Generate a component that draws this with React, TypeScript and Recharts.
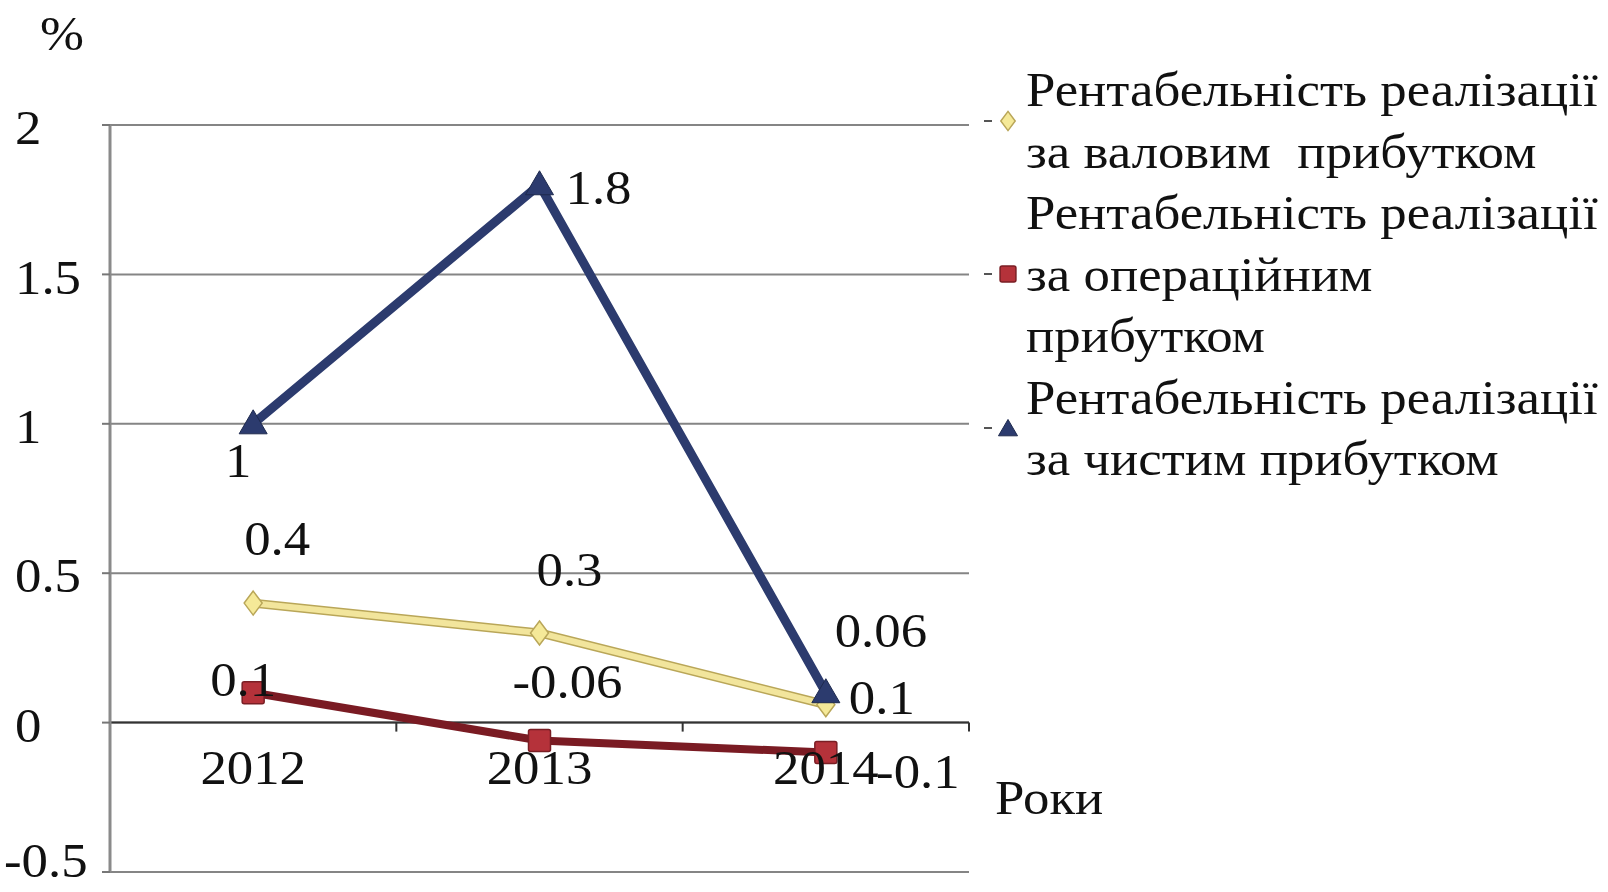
import React from 'react';
import { LineChart, Line, XAxis, YAxis, CartesianGrid, ReferenceLine, LabelList } from 'recharts';

const years = ['2012', '2013', '2014'];
const grossMargin = [0.4, 0.3, 0.06];
const operatingMargin = [0.1, -0.06, -0.1];
const netMargin = [1, 1.8, 0.1];
const yTicks = [-0.5, 0, 0.5, 1, 1.5, 2];
const grossName = ['Рентабельність реалізації', 'за валовим  прибутком'];
const operatingName = ['Рентабельність реалізації', 'за операційним', 'прибутком'];
const netName = ['Рентабельність реалізації', 'за чистим прибутком'];
const yUnit = '%';
const xTitle = 'Роки';

// layout
const W = 1608;
const H = 892;
const TOP = 125;
const PLOT_RIGHT = 969;
const Y_AXIS_W = 110;
const X_AXIS_H = 20;
const PLOT_H = H - TOP - X_AXIS_H;
const BAND = (PLOT_RIGHT - Y_AXIS_W) / years.length;
const ZERO_Y = TOP + PLOT_H * (2 / 2.5);
const FONT = '"Liberation Serif", "Times New Roman", serif';
const FS = 48;
const SX = 1.1; // the source text is a little wide

// label nudges [dx, dy] per point
const grossShift = [[24, -64], [30, -63], [55, -74]];
const operatingShift = [[-10, -13], [28, -59], [92, 19]];
const netShift = [[-15, 37], [59, 3], [56, 5]];

const data = years.map((year, i) => ({
  year,
  gross: grossMargin[i],
  operating: operatingMargin[i],
  net: netMargin[i],
}));

const T = ({ x, y, anchor = 'middle', children }: any) => (
  <text
    transform={`translate(${x},${y}) scale(${SX},1)`}
    textAnchor={anchor}
    dominantBaseline="central"
    fontFamily={FONT}
    fontSize={FS}
    fill="#111"
  >
    {children}
  </text>
);

const makeLabel = (shift: number[][]) => (props: any) => {
  const { x, y, value, index } = props;
  const [dx, dy] = shift[index] || [0, 0];
  return <T x={x + dx} y={y + dy}>{String(value)}</T>;
};

const Diamond = ({ cx, cy, s = 1 }: any) => (
  <path
    d={`M${cx},${cy - 12 * s} L${cx + 9 * s},${cy} L${cx},${cy + 12 * s} L${cx - 9 * s},${cy} Z`}
    fill="#F5E998"
    stroke="#B9A658"
    strokeWidth={1.5}
  />
);

const Square = ({ cx, cy, s = 1 }: any) => (
  <rect
    x={cx - 11 * s}
    y={cy - 11 * s}
    width={22 * s}
    height={22 * s}
    rx={2}
    fill="#B5323A"
    stroke="#7A1E24"
    strokeWidth={1.5}
  />
);

const Triangle = ({ cx, cy, s = 1 }: any) => (
  <path
    d={`M${cx},${cy - 14 * s} L${cx + 14 * s},${cy + 10 * s} L${cx - 14 * s},${cy + 10 * s} Z`}
    fill="#2C3B6E"
    stroke="#1E2A4E"
    strokeWidth={1}
  />
);

const XTick = (props: any) => {
  const { x, payload } = props;
  return (
    <g>
      <line x1={x + BAND / 2} x2={x + BAND / 2} y1={ZERO_Y} y2={ZERO_Y + 9} stroke="#333" strokeWidth={2} />
      <T x={x} y={ZERO_Y + 45}>{payload.value}</T>
    </g>
  );
};

const YTick = (props: any) => {
  const { y, payload } = props;
  const neg = payload.value < 0;
  return (
    <T x={neg ? 4 : 15} y={y + (neg ? -11 : 3)} anchor="start">
      {String(payload.value)}
    </T>
  );
};

const legendItems = [
  { lines: grossName, marker: <Diamond cx={32} cy={25} s={0.8} /> },
  { lines: operatingName, marker: <Square cx={32} cy={25} s={0.72} /> },
  { lines: netName, marker: <Triangle cx={32} cy={26} s={0.68} /> },
];

const htmlText = {
  fontSize: FS,
  lineHeight: `${FS}px`,
  color: '#111',
  transform: `scaleX(${SX})`,
  transformOrigin: 'left center',
};

export default function App() {
  return (
    <div style={{ position: 'absolute', left: 0, top: 0, width: W, height: H, background: '#fff', fontFamily: FONT }}>
      <LineChart width={W} height={H} data={data} margin={{ top: TOP, right: W - PLOT_RIGHT, bottom: 0, left: 0 }}>
        <CartesianGrid vertical={false} stroke="#858585" strokeWidth={2} />
        <XAxis
          dataKey="year"
          scale="band"
          height={X_AXIS_H}
          axisLine={false}
          tickLine={false}
          tick={<XTick />}
          interval={0}
        />
        <YAxis
          width={Y_AXIS_W}
          domain={[-0.5, 2]}
          ticks={yTicks}
          interval={0}
          axisLine={{ stroke: '#8a8a8a', strokeWidth: 3 }}
          tickLine={{ stroke: '#777', strokeWidth: 2 }}
          tickSize={8}
          tick={<YTick />}
        />
        <ReferenceLine y={0} stroke="#333" strokeWidth={2} />
        <Line
          dataKey="gross"
          stroke="#B9A658"
          strokeWidth={9}
          dot={false}
          legendType="none"
          isAnimationActive={false}
        />
        <Line
          dataKey="gross"
          stroke="#F2E59C"
          strokeWidth={6}
          dot={(p: any) => <Diamond key={`g${p.index}`} cx={p.cx} cy={p.cy} />}
          isAnimationActive={false}
        >
          <LabelList dataKey="gross" content={makeLabel(grossShift)} />
        </Line>
        <Line
          dataKey="operating"
          stroke="#7A1B23"
          strokeWidth={8}
          dot={(p: any) => <Square key={`o${p.index}`} cx={p.cx} cy={p.cy} />}
          isAnimationActive={false}
        >
          <LabelList dataKey="operating" content={makeLabel(operatingShift)} />
        </Line>
        <Line
          dataKey="net"
          stroke="#2C3B6E"
          strokeWidth={9}
          dot={(p: any) => <Triangle key={`n${p.index}`} cx={p.cx} cy={p.cy} />}
          isAnimationActive={false}
        >
          <LabelList dataKey="net" content={makeLabel(netShift)} />
        </Line>
      </LineChart>

      <div style={{ position: 'absolute', left: 40, top: 34 - FS / 2, ...htmlText }}>{yUnit}</div>
      <div style={{ position: 'absolute', left: 995, top: 798 - FS / 2, ...htmlText }}>{xTitle}</div>

      <div style={{ position: 'absolute', left: 976, top: 59 }}>
        {legendItems.map((item, i) => (
          <div key={i} style={{ display: 'flex', alignItems: 'center' }}>
            <svg width={50} height={50} style={{ flex: 'none' }}>
              <line x1={8} x2={16} y1={25} y2={25} stroke="#555" strokeWidth={2} />
              {item.marker}
            </svg>
            <div style={{ ...htmlText, lineHeight: '61.5px', whiteSpace: 'pre' }}>
              {item.lines.map((l, j) => (
                <div key={j}>{l}</div>
              ))}
            </div>
          </div>
        ))}
      </div>
    </div>
  );
}
